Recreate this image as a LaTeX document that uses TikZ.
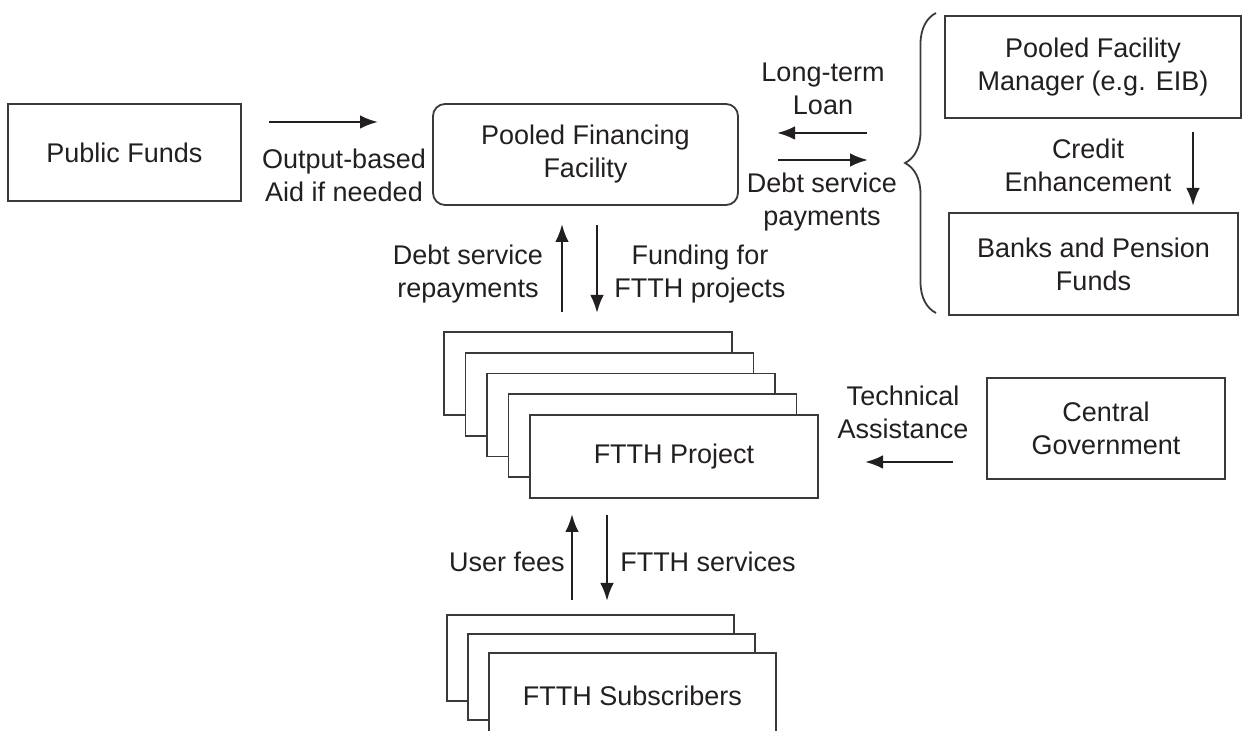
\documentclass[tikz,border=0pt]{standalone}
\usepackage{fontspec}
\setmainfont{Liberation Sans}
\usetikzlibrary{arrows.meta,decorations.pathreplacing}
\definecolor{ink}{HTML}{231F20}
\definecolor{edge}{HTML}{3A3A3A}

\begin{document}
\begin{tikzpicture}[x=0.5pt,y=-0.5pt,
  font=\fontsize{13.5}{16.5}\selectfont, text=ink,
  box/.style={draw=edge, line width=0.9pt, fill=white, inner sep=0pt, align=center},
  lbl/.style={align=center, inner sep=0pt},
  flow/.style={draw=ink, line width=1.2pt, -{Latex[length=9pt,width=6.8pt]}}]

\useasboundingbox (0,0) rectangle (1242,731);
\clip (0,0) rectangle (1242,731);

% main boxes
\node[box, minimum width=116.5pt, minimum height=48.5pt] (pf) at (124.5,152.5) {Public Funds};
\node[box, rounded corners=6pt, minimum width=152.5pt, minimum height=50.5pt] (pff) at (585.5,154.5) {Pooled Financing\\Facility};
\node[box, minimum width=148pt, minimum height=51pt] (pfm) at (1093,67) {Pooled Facility\\Manager (e.g. EIB)};
\node[box, minimum width=144.5pt, minimum height=51pt] (banks) at (1093.5,264) {Banks and Pension\\Funds};
\node[box, minimum width=119pt, minimum height=50.5pt] (cg) at (1106,428.5) {Central\\Government};

% stacked project boxes, back to front
\foreach \k in {1,...,4}
  \node[box, minimum width=144pt, minimum height=41.5pt] (proj\k) at ({588+21.5*(\k-1)},{373.5+20.75*(\k-1)}) {};
\node[box, minimum width=144pt, minimum height=41.5pt] (proj5) at (674,456.5) {FTTH Project};

% stacked subscriber boxes
\node[box, minimum width=143.5pt, minimum height=43pt] (sub1) at (590.5,658) {};
\node[box, minimum width=143.5pt, minimum height=43pt] (sub2) at (611.5,677) {};
\node[box, minimum width=143.5pt, minimum height=43pt] (sub3) at (632.5,696) {FTTH Subscribers};

% brace grouping the lenders
\draw[edge, line width=0.9pt, decorate, decoration={brace, amplitude=15.5pt}] (936,313) -- (936,13);

% flow arrows
\coordinate (oaS) at (269,122);  \coordinate (oaE) at (378,122);
\coordinate (ltS) at (867,133);  \coordinate (ltE) at (777,133);
\coordinate (dpS) at (778,160);  \coordinate (dpE) at (868,160);
\coordinate (ceS) at (1193,132); \coordinate (ceE) at (1193,206);
\coordinate (drS) at (562,312);  \coordinate (drE) at (562,224);
\coordinate (ffS) at (597,225);  \coordinate (ffE) at (597,313);
\coordinate (taS) at (953,462);  \coordinate (taE) at (865,462);
\coordinate (ufS) at (572,600);  \coordinate (ufE) at (572,514);
\coordinate (fsS) at (607,515);  \coordinate (fsE) at (607,601);

\draw[flow] (oaS) -- (oaE);
\draw[flow] (ltS) -- (ltE);
\draw[flow] (dpS) -- (dpE);
\draw[flow] (ceS) -- (ceE);
\draw[flow] (drS) -- (drE);
\draw[flow] (ffS) -- (ffE);
\draw[flow] (taS) -- (taE);
\draw[flow] (ufS) -- (ufE);
\draw[flow] (fsS) -- (fsE);

% arrow labels
\node[lbl] (l1) at (344,175) {Output-based\\Aid if needed};
\node[lbl] (l2) at (823,89) {Long-term\\Loan};
\node[lbl] (l3) at (822,202) {Debt service\\payments};
\node[lbl] (l4) at (1088,165) {Credit\\Enhancement};
\node[lbl] (l5) at (468,274) {Debt service\\repayments};
\node[lbl] (l6) at (700,274) {Funding for\\FTTH projects};
\node[lbl] (l7) at (903,412) {Technical\\Assistance};
\node[lbl] (l8) at (507,562) {User fees};
\node[lbl] (l9) at (708,562) {FTTH services};

\end{tikzpicture}
\end{document}
